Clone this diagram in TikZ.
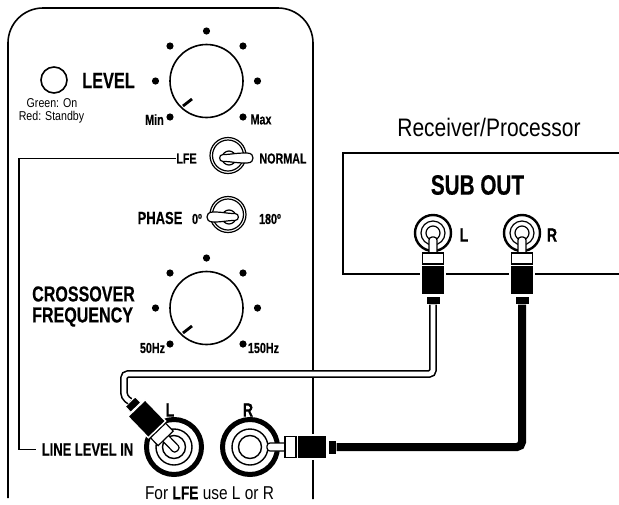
\documentclass[tikz,border=0pt]{standalone}
\usepackage{fontspec}
\setmainfont{Liberation Sans}[FakeStretch=0.83,BoldFeatures={FakeStretch=0.74,FakeBold=0.4}]
\usetikzlibrary{calc}
\tikzstyle{outline}=[line width=1.6pt]
\tikzstyle{wire}=[line width=1.6pt]
\tikzstyle{heavycable}=[line width=8pt,rounded corners=5pt]
\tikzstyle{twincable}=[line width=1.6pt,double=white,double distance=4.6pt,rounded corners=4pt]
\tikzstyle{tiny}=[inner sep=0pt,font=\bfseries\fontsize{14.5}{16}\selectfont]
\tikzstyle{small}=[inner sep=0pt,font=\fontsize{12.8}{14}\selectfont]
\tikzstyle{medium}=[inner sep=0pt,font=\bfseries\fontsize{17.5}{19}\selectfont]
\tikzstyle{big}=[inner sep=0pt,font=\bfseries\fontsize{22}{24}\selectfont]
\tikzstyle{plain}=[inner sep=0pt,font=\fontsize{18.6}{20}\selectfont]
\newcommand{\dialKnob}[1]{
	\begin{scope}[shift={#1}]
		\draw[outline] (0,0) circle (36.5);
		\foreach \px/\py in {0/-50,-36.5/-35,36.5/-35,-51/0,51/0,-36.5/36,36.5/36} {
			\fill (\px,\py) circle (3.6);
		}
		\draw[line width=2.8pt] (-23.5,25) -- (-14.5,18);
	\end{scope}
}
\newcommand{\toggleSwitch}[4]{
	\begin{scope}[shift={#1}]
		\draw[line width=1.2pt,fill=white] (0,-2.5) circle (18);
		\draw[line width=1.2pt] (0,-2.5) circle (15.5);
		\draw[line width=1.2pt] (1,0) circle (7);
		\begin{scope}[xscale=#2]
			\draw[line width=1.2pt,fill=white] (#3,-3.5) .. controls (#3+10,-3.5) and (#3+10,-5) .. (#4-6,-5) .. controls (#4-1,-5) and (#4,-2) .. (#4,0) .. controls (#4,2) and (#4-1,5) .. (#4-6,5) .. controls (#3+10,5) and (#3+10,3.5) .. (#3,3.5) .. controls (#3-4.5,3.5) and (#3-4.5,-3.5) .. (#3,-3.5) -- cycle;
		\end{scope}
	\end{scope}
}
\newcommand{\audioJack}[1]{
	\begin{scope}[shift={#1}]
		\draw[line width=5pt,fill=white] (0,0) circle (27.5);
		\draw[line width=1.4pt] (0,0) circle (18);
		\draw[line width=1.4pt] (0,0) circle (11.5);
	\end{scope}
}
\newcommand{\outJack}[1]{
	\begin{scope}[shift={#1}]
		\draw[line width=2.4pt,fill=white] (0,0) circle (18);
		\draw[line width=1.2pt] (0,0) circle (12);
		\draw[line width=1.2pt] (0,0) circle (7);
	\end{scope}
}
% centre, angle, start of collar, start of pin, name of the cable end
\newcommand{\rcaPlug}[5]{
	\begin{scope}[shift={#1},rotate=#2]
		\draw[line width=1.2pt,fill=white,rounded corners=3pt] (#3+1,-4) -- (#4,-4) -- (#4,4) -- (#3+1,4);
		\draw[line width=1.2pt,fill=white] (#3,-10.5) rectangle (#3+11,10.5);
		\draw[white,line width=1.4pt,fill=black] (#3+12.5,-12) rectangle (#3+42,12);
		\draw[white,line width=1pt,fill=black] (#3+43,-7) rectangle (#3+51,7);
		\coordinate (#5) at (#3+51.5,0);
	\end{scope}
}
\begin{document}
\begin{tikzpicture}[x=1pt,y=-1pt]
	\useasboundingbox (0,0) rectangle (619,504);
	% panel and receiver
	\draw[outline,rounded corners=35pt] (8,498) -- (8,8) -- (313,8) -- (313,499);
	\draw[outline] (619,153) -- (343,153) -- (343,274) -- (619,274);
	% level section
	\draw[outline] (54,80) circle (13);
	\node[big] (level) at (108.5,80.5) {LEVEL};
	\node[small] (green) at (52,103) {Green: On};
	\node[small] (red) at (51.5,117) {Red: Standby};
	\dialKnob{(206.5,81)}
	\node[tiny] (min) at (154.5,119.5) {Min};
	\node[tiny] (max) at (261,119.5) {Max};
	% switches
	\node[tiny] (lfe) at (186.5,158.5) {LFE};
	\node[tiny] (normal) at (283,158.5) {NORMAL};
	\toggleSwitch{(228,158)}{1}{-5}{25}
	\node[medium] (phase) at (160,218) {PHASE};
	\node[tiny] (zero) at (197,219) {0º};
	\node[tiny] (oneeighty) at (270,219) {180º};
	\toggleSwitch{(228,217)}{-1}{-7}{21}
	% crossover section
	\node[big,align=left,anchor=west,font=\bfseries\fontsize{21.7}{21}\selectfont] (crossover) at (32,306.5) {CROSSOVER\\FREQUENCY};
	\dialKnob{(206.5,308)}
	\node[tiny] (fifty) at (152.5,348) {50Hz};
	\node[tiny] (onefifty) at (263.5,348) {150Hz};
	% inputs
	\node[medium] (linein) at (87.5,449.5) {LINE LEVEL IN};
	\coordinate (lfetop) at (19,158.5);
	\coordinate (lfebottom) at (19,449.5);
	\draw[wire,shorten >=6pt] (lfe.west) -- (lfetop) -- (lfebottom) -- (linein.west);
	\audioJack{(174,447)}
	\audioJack{(250,447)}
	\rcaPlug{(174,447)}{134}{12}{-5}{inleft}
	\rcaPlug{(250,447)}{0}{35}{17}{inright}
	\node[big,font=\bfseries\fontsize{19}{21}\selectfont] (inl) at (170,410) {L};
	\node[big,font=\bfseries\fontsize{19}{21}\selectfont] (inr) at (248,410) {R};
	\node[plain] (note) at (209.5,493) {For \textbf{LFE} use L or R};
	% receiver outputs
	\node[plain,font=\fontsize{25.3}{27}\selectfont] (receiver) at (489,127) {Receiver/Processor};
	\node[big,font=\bfseries\fontsize{28}{30}\selectfont] (subout) at (477.5,185) {SUB OUT};
	\outJack{(433,233)}
	\outJack{(522,233)}
	\rcaPlug{(433,233)}{-90}{20}{4}{outleft}
	\rcaPlug{(522,233)}{-90}{20}{4}{outright}
	\node[big,font=\bfseries\fontsize{19}{21}\selectfont] (outl) at (464,235) {L};
	\node[big,font=\bfseries\fontsize{19}{21}\selectfont] (outr) at (552,235) {R};
	% cables
	\draw[heavycable] (inright) -| (outright);
	\coordinate (bendtop) at (124,374);
	\coordinate (bendlow) at (124,397);
	\draw[twincable] (outleft) |- (bendtop) -- (bendlow) -- (inleft);
\end{tikzpicture}
\end{document}
